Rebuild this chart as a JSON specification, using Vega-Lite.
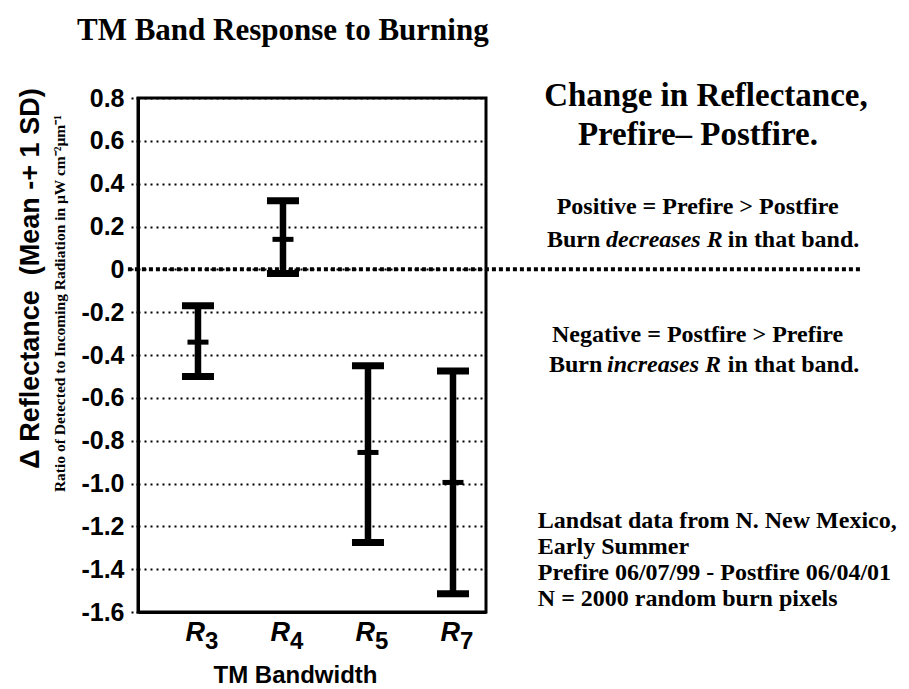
{
  "$schema": "https://vega.github.io/schema/vega-lite/v6.json",
  "width": 348,
  "height": 514,
  "autosize": "none",
  "padding": {"left": 138, "top": 98, "right": 423, "bottom": 77},
  "background": "white",
  "title": {
    "text": "TM Band Response to Burning",
    "anchor": "start",
    "frame": "group",
    "dx": -61,
    "offset": 9,
    "baseline": "alphabetic",
    "font": "Liberation Serif",
    "fontSize": 31,
    "fontWeight": "bold",
    "color": "black"
  },
  "config": {
    "view": {"stroke": "black", "strokeWidth": 3},
    "text": {"color": "black"}
  },
  "resolve": {"scale": {"x": "independent"}, "axis": {"x": "independent"}},
  "layer": [
    {
      "data": {
        "values": [
          {"band": "R3", "sub": "3", "mean": -0.34, "lower": -0.5, "upper": -0.17},
          {"band": "R4", "sub": "4", "mean": 0.14, "lower": -0.02, "upper": 0.32},
          {"band": "R5", "sub": "5", "mean": -0.855, "lower": -1.275, "upper": -0.45},
          {"band": "R7", "sub": "7", "mean": -0.995, "lower": -1.515, "upper": -0.475}
        ]
      },
      "encoding": {
        "x": {
          "field": "band",
          "type": "nominal",
          "sort": null,
          "scale": {"type": "point", "padding": 0.547, "align": 0.645},
          "axis": {
            "labels": false,
            "ticks": false,
            "domain": true,
            "domainColor": "black",
            "domainWidth": 3,
            "title": "TM Bandwidth",
            "titleFont": "Liberation Sans",
            "titleFontSize": 24,
            "titleFontWeight": "bold",
            "titleColor": "black",
            "titleX": 157,
            "titleY": 70,
            "titleBaseline": "alphabetic",
            "titleAlign": "center"
          }
        }
      },
      "layer": [
        {
          "mark": {"type": "rule", "color": "black", "strokeWidth": 6.5},
          "encoding": {
            "y": {
              "field": "lower",
              "type": "quantitative",
              "scale": {"domain": [-1.6, 0.8], "nice": false, "zero": false},
              "axis": {
                "title": "Δ Reflectance \u00a0(Mean -+ 1 SD)",
                "values": [-1.6, -1.4, -1.2, -1.0, -0.8, -0.6, -0.4, -0.2, 0, 0.2, 0.4, 0.6, 0.8],
                "labelExpr": "datum.value == 0 ? '0' : replace(format(datum.value, '.1f'), '−', '-')",
                "labelFont": "Liberation Sans",
                "labelFontWeight": "bold",
                "labelFontSize": 25,
                "labelColor": "black",
                "labelPadding": 4,
                "tickColor": "black",
                "tickDash": [2, 3],
                "tickSize": 10,
                "tickWidth": 2,
                "grid": true,
                "gridColor": "black",
                "gridDash": [2, 4],
                "gridWidth": 2,
                "gridOpacity": 1,
                "domainColor": "black",
                "domainWidth": 3,
                "titleFont": "Liberation Sans",
                "titleFontSize": 27,
                "titleFontWeight": "bold",
                "titleColor": "black",
                "titleAngle": 270,
                "titleX": -108,
                "titleY": 180,
                "titleBaseline": "middle",
                "titleAlign": "center"
              }
            },
            "y2": {"field": "upper"}
          }
        },
        {
          "mark": {"type": "tick", "orient": "horizontal", "color": "black", "opacity": 1, "size": 32, "thickness": 7},
          "encoding": {"y": {"field": "upper", "type": "quantitative"}}
        },
        {
          "mark": {"type": "tick", "orient": "horizontal", "color": "black", "opacity": 1, "size": 32, "thickness": 7},
          "encoding": {"y": {"field": "lower", "type": "quantitative"}}
        },
        {
          "mark": {"type": "tick", "orient": "horizontal", "color": "black", "opacity": 1, "size": 21, "thickness": 5},
          "encoding": {"y": {"field": "mean", "type": "quantitative"}}
        },
        {
          "mark": {"type": "text", "font": "Liberation Sans", "fontSize": 27, "fontWeight": "bold", "fontStyle": "italic", "align": "right", "baseline": "alphabetic", "dx": 7, "dy": 29},
          "encoding": {
            "y": {"datum": -1.6, "type": "quantitative"},
            "text": {"value": "R"}
          }
        },
        {
          "mark": {"type": "text", "font": "Liberation Sans", "fontSize": 24, "fontWeight": "bold", "align": "left", "baseline": "alphabetic", "dx": 7, "dy": 37},
          "encoding": {
            "y": {"datum": -1.6, "type": "quantitative"},
            "text": {"field": "sub"}
          }
        }
      ]
    },
    {
      "data": {"values": [{}]},
      "layer": [
        {
          "mark": {"type": "rule", "color": "black", "strokeWidth": 4, "strokeDash": [4, 3]},
          "encoding": {
            "x": {"datum": -0.029, "type": "quantitative", "scale": {"domain": [0, 1]}, "axis": null},
            "x2": {"datum": 2.08},
            "y": {"datum": 0, "type": "quantitative"}
          }
        },
        {
          "mark": {"type": "text", "font": "Liberation Serif", "fontSize": 15.5, "fontWeight": "bold", "angle": 270, "align": "center", "baseline": "middle"},
          "encoding": {
            "x": {"datum": -0.224, "type": "quantitative", "scale": {"domain": [0, 1]}, "axis": null},
            "y": {"datum": -0.16, "type": "quantitative"},
            "text": {"value": "Ratio of Detected to Incoming Radiation in µW cm⁻²µm⁻¹"}
          }
        },
        {
          "mark": {"type": "text", "font": "Liberation Serif", "fontSize": 33, "fontWeight": "bold", "align": "center", "baseline": "alphabetic"},
          "encoding": {
            "x": {"datum": 1.632, "type": "quantitative", "scale": {"domain": [0, 1]}, "axis": null},
            "y": {"datum": 0.762, "type": "quantitative"},
            "text": {"value": "Change in Reflectance,"}
          }
        },
        {
          "mark": {"type": "text", "font": "Liberation Serif", "fontSize": 33, "fontWeight": "bold", "align": "center", "baseline": "alphabetic"},
          "encoding": {
            "x": {"datum": 1.609, "type": "quantitative", "scale": {"domain": [0, 1]}, "axis": null},
            "y": {"datum": 0.58, "type": "quantitative"},
            "text": {"value": "Prefire– Postfire."}
          }
        },
        {
          "mark": {"type": "text", "font": "Liberation Serif", "fontSize": 24, "fontWeight": "bold", "align": "center", "baseline": "alphabetic"},
          "encoding": {
            "x": {"datum": 1.608, "type": "quantitative", "scale": {"domain": [0, 1]}, "axis": null},
            "y": {"datum": 0.258, "type": "quantitative"},
            "text": {"value": "Positive = Prefire > Postfire"}
          }
        },
        {
          "mark": {"type": "text", "font": "Liberation Serif", "fontSize": 24, "fontWeight": "bold", "align": "left", "baseline": "alphabetic"},
          "encoding": {
            "x": {"datum": 1.175, "type": "quantitative", "scale": {"domain": [0, 1]}, "axis": null},
            "y": {"datum": 0.104, "type": "quantitative"},
            "text": {"value": "Burn"}
          }
        },
        {
          "mark": {"type": "text", "font": "Liberation Serif", "fontSize": 24, "fontWeight": "bold", "fontStyle": "italic", "align": "left", "baseline": "alphabetic"},
          "encoding": {
            "x": {"datum": 1.345, "type": "quantitative", "scale": {"domain": [0, 1]}, "axis": null},
            "y": {"datum": 0.104, "type": "quantitative"},
            "text": {"value": "decreases R"}
          }
        },
        {
          "mark": {"type": "text", "font": "Liberation Serif", "fontSize": 24, "fontWeight": "bold", "align": "left", "baseline": "alphabetic"},
          "encoding": {
            "x": {"datum": 1.695, "type": "quantitative", "scale": {"domain": [0, 1]}, "axis": null},
            "y": {"datum": 0.104, "type": "quantitative"},
            "text": {"value": "in that band."}
          }
        },
        {
          "mark": {"type": "text", "font": "Liberation Serif", "fontSize": 24, "fontWeight": "bold", "align": "center", "baseline": "alphabetic"},
          "encoding": {
            "x": {"datum": 1.608, "type": "quantitative", "scale": {"domain": [0, 1]}, "axis": null},
            "y": {"datum": -0.339, "type": "quantitative"},
            "text": {"value": "Negative = Postfire > Prefire"}
          }
        },
        {
          "mark": {"type": "text", "font": "Liberation Serif", "fontSize": 24, "fontWeight": "bold", "align": "left", "baseline": "alphabetic"},
          "encoding": {
            "x": {"datum": 1.181, "type": "quantitative", "scale": {"domain": [0, 1]}, "axis": null},
            "y": {"datum": -0.479, "type": "quantitative"},
            "text": {"value": "Burn"}
          }
        },
        {
          "mark": {"type": "text", "font": "Liberation Serif", "fontSize": 24, "fontWeight": "bold", "fontStyle": "italic", "align": "left", "baseline": "alphabetic"},
          "encoding": {
            "x": {"datum": 1.348, "type": "quantitative", "scale": {"domain": [0, 1]}, "axis": null},
            "y": {"datum": -0.479, "type": "quantitative"},
            "text": {"value": "increases R"}
          }
        },
        {
          "mark": {"type": "text", "font": "Liberation Serif", "fontSize": 24, "fontWeight": "bold", "align": "left", "baseline": "alphabetic"},
          "encoding": {
            "x": {"datum": 1.695, "type": "quantitative", "scale": {"domain": [0, 1]}, "axis": null},
            "y": {"datum": -0.479, "type": "quantitative"},
            "text": {"value": "in that band."}
          }
        },
        {
          "mark": {"type": "text", "font": "Liberation Serif", "fontSize": 24, "fontWeight": "bold", "align": "left", "baseline": "alphabetic", "lineHeight": 26},
          "encoding": {
            "x": {"datum": 1.149, "type": "quantitative", "scale": {"domain": [0, 1]}, "axis": null},
            "y": {"datum": -1.207, "type": "quantitative"},
            "text": {"value": ["Landsat data from N. New Mexico,", "Early Summer", "Prefire 06/07/99 - Postfire 06/04/01", "N = 2000 random burn pixels"]}
          }
        }
      ]
    }
  ]
}
